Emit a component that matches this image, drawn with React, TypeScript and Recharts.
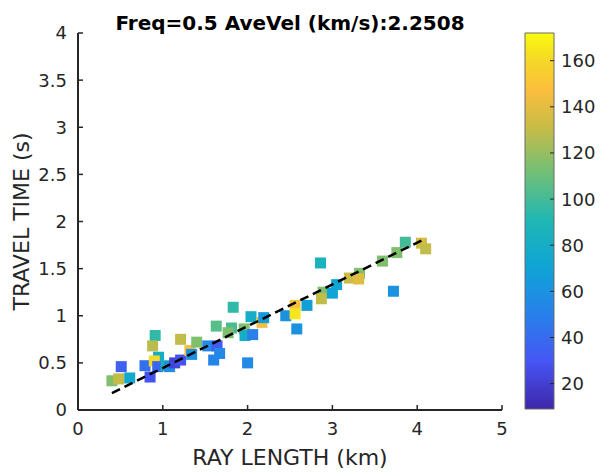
import {
  ScatterChart,
  Scatter,
  XAxis,
  YAxis,
  BarChart,
  Bar,
} from 'recharts';

// ray length (km), travel time (s), colour value for each square
const rayLength = [
  0.4, 0.48, 0.61, 0.51, 0.79, 0.85, 0.91, 0.88, 0.95, 0.9, 0.94, 1.04, 1.08, 1.14,
  1.21, 1.21, 1.32, 1.34, 1.4, 1.53, 1.64, 1.67, 1.6, 1.63, 1.83, 1.81, 1.77, 1.96,
  1.97, 2.06, 2.04, 2.17, 2.19, 2.0, 2.45, 2.56, 2.56, 2.58, 2.7, 2.86, 2.89, 2.87,
  3.0, 3.05, 3.2, 3.32, 3.31, 3.59, 3.76, 3.86, 3.72, 4.05, 4.1,
];
const travelTime = [
  0.31, 0.33, 0.34, 0.46, 0.47, 0.35, 0.79, 0.68, 0.56, 0.52, 0.46, 0.47, 0.46, 0.5,
  0.53, 0.75, 0.63, 0.59, 0.72, 0.68, 0.68, 0.6, 0.53, 0.89, 1.09, 0.87, 0.82, 0.86,
  0.79, 0.8, 0.99, 0.93, 0.98, 0.5, 1.0, 1.11, 1.02, 0.86, 1.11, 1.56, 1.25, 1.18,
  1.24, 1.33, 1.4, 1.45, 1.39, 1.58, 1.67, 1.78, 1.26, 1.77, 1.71,
];
const colorValue = [
  115, 130, 75, 35, 42, 28, 95, 128, 80, 160, 38, 85, 58, 22,
  28, 130, 145, 60, 115, 55, 32, 55, 52, 105, 95, 102, 115, 115,
  80, 50, 80, 145, 65, 55, 60, 145, 165, 60, 68, 85, 115, 130,
  70, 72, 132, 115, 138, 115, 115, 100, 60, 135, 130,
];

// dashed least-squares line ends
const fitX = [0.4, 4.1];
const fitY = [0.18, 1.82];

const xTicks = [0, 1, 2, 3, 4, 5];
const yTicks = [0, 0.5, 1, 1.5, 2, 2.5, 3, 3.5, 4];
const cbTicks = [20, 40, 60, 80, 100, 120, 140, 160];
const cbMin = 9;
const cbMax = 172;

const FONT = '"DejaVu Sans", sans-serif';
const AX = '#262626';

// parula-like colormap stops
const PARULA: [number, number, number, number][] = [
  [0.0, 62, 38, 168],
  [0.125, 70, 85, 244],
  [0.25, 40, 128, 235],
  [0.375, 15, 163, 214],
  [0.5, 30, 183, 180],
  [0.625, 110, 192, 120],
  [0.75, 200, 188, 70],
  [0.85, 252, 190, 60],
  [0.925, 245, 215, 40],
  [1.0, 249, 251, 14],
];

function parula(v: number): string {
  const t = Math.max(0, Math.min(1, (v - cbMin) / (cbMax - cbMin)));
  for (let i = 1; i < PARULA.length; i++) {
    const a = PARULA[i - 1];
    const b = PARULA[i];
    if (t <= b[0]) {
      const f = (t - a[0]) / (b[0] - a[0]);
      const c = [1, 2, 3].map((k) => Math.round(a[k] + (b[k] - a[k]) * f));
      return `rgb(${c[0]},${c[1]},${c[2]})`;
    }
  }
  return 'rgb(249,251,14)';
}

const points = rayLength.map((x, i) => ({ x, y: travelTime[i], c: colorValue[i] }));
const fitData = fitX.map((x, i) => ({ x, y: fitY[i] }));
const cbData = [{ name: 'cb', span: [cbMin, cbMax] }];

function Square(props: any) {
  const { cx, cy, payload } = props;
  return <rect x={cx - 5.5} y={cy - 5.5} width={11} height={11} fill={parula(payload.c)} />;
}

function BottomTick(props: any) {
  const { x, y, payload } = props;
  const ay = y - 12;
  return (
    <g>
      <line x1={x} y1={ay} x2={x} y2={ay - 5} stroke={AX} strokeWidth={1.5} />
      <text x={x} y={y} dy="0.72em" textAnchor="middle" fill={AX} fontSize={18} fontFamily={FONT}>
        {payload.value}
      </text>
    </g>
  );
}

function LeftTick(props: any) {
  const { x, y, payload } = props;
  const ax = x + 11;
  return (
    <g>
      <line x1={ax} y1={y} x2={ax + 5} y2={y} stroke={AX} strokeWidth={1.5} />
      <text x={x} y={y} dy="0.36em" textAnchor="end" fill={AX} fontSize={18} fontFamily={FONT}>
        {payload.value}
      </text>
    </g>
  );
}

function TopTick(props: any) {
  const { x, y } = props;
  return <line x1={x} y1={y} x2={x} y2={y + 5} stroke={AX} strokeWidth={1.5} />;
}

function RightTick(props: any) {
  const { x, y } = props;
  return <line x1={x} y1={y} x2={x - 5} y2={y} stroke={AX} strokeWidth={1.5} />;
}

function CbTick(props: any) {
  const { x, y, payload } = props;
  const ax = x - 7;
  return (
    <g>
      <line x1={ax} y1={y} x2={ax - 4} y2={y} stroke={AX} strokeWidth={1} />
      <text x={x} y={y} dy="0.36em" textAnchor="start" fill={AX} fontSize={18} fontFamily={FONT}>
        {payload.value}
      </text>
    </g>
  );
}

const axisLine = { stroke: AX, strokeWidth: 2 };

export default function App() {
  return (
    <div
      style={{
        position: 'absolute',
        left: 0,
        top: 0,
        width: 601,
        height: 475,
        background: '#fff',
        fontFamily: FONT,
      }}
    >
      <div style={{ position: 'absolute', left: 0, top: 0 }}>
        <ScatterChart width={520} height={475} margin={{ top: 33, right: 18, bottom: 0, left: 0 }}>
          <XAxis
            xAxisId="b"
            type="number"
            dataKey="x"
            domain={[0, 5]}
            ticks={xTicks}
            interval={0}
            height={65}
            tickSize={0}
            tickMargin={12}
            axisLine={axisLine}
            tickLine={false}
            tick={<BottomTick />}
            label={{
              content: (p: any) => {
                const vb = p.viewBox;
                return (
                  <text
                    x={vb.x + vb.width / 2}
                    y={465}
                    textAnchor="middle"
                    fill={AX}
                    fontSize={22}
                    fontFamily={FONT}
                  >
                    RAY LENGTH (km)
                  </text>
                );
              },
            }}
          />
          <XAxis
            xAxisId="t"
            orientation="top"
            type="number"
            dataKey="x"
            domain={[0, 5]}
            ticks={xTicks}
            interval={0}
            height={0}
            tickSize={0}
            tickMargin={0}
            axisLine={axisLine}
            tickLine={false}
            tick={<TopTick />}
          />
          <YAxis
            yAxisId="l"
            type="number"
            dataKey="y"
            domain={[0, 4]}
            ticks={yTicks}
            interval={0}
            width={78}
            tickSize={0}
            tickMargin={11}
            axisLine={axisLine}
            tickLine={false}
            tick={<LeftTick />}
            label={{
              content: (p: any) => {
                const vb = p.viewBox;
                const cy = vb.y + vb.height / 2;
                return (
                  <text
                    x={29}
                    y={cy}
                    transform={`rotate(-90 29 ${cy})`}
                    textAnchor="middle"
                    fill={AX}
                    fontSize={22}
                    fontFamily={FONT}
                  >
                    TRAVEL TIME (s)
                  </text>
                );
              },
            }}
          />
          <YAxis
            yAxisId="r"
            orientation="right"
            type="number"
            dataKey="y"
            domain={[0, 4]}
            ticks={yTicks}
            interval={0}
            width={0}
            tickSize={0}
            tickMargin={0}
            axisLine={axisLine}
            tickLine={false}
            tick={<RightTick />}
          />
          <Scatter
            xAxisId="b"
            yAxisId="l"
            data={points}
            shape={<Square />}
            isAnimationActive={false}
          />
          <Scatter
            xAxisId="b"
            yAxisId="l"
            data={fitData}
            line={{ stroke: '#000', strokeWidth: 2.5, strokeDasharray: '9 5' }}
            lineType="joint"
            shape={() => <g />}
            isAnimationActive={false}
          />
        </ScatterChart>
      </div>
      <div style={{ position: 'absolute', left: 505, top: 0 }}>
        <BarChart
          width={96}
          height={475}
          data={cbData}
          margin={{ top: 33, right: 0, bottom: 66, left: 20 }}
          barCategoryGap={0}
        >
          <defs>
            <linearGradient id="parula" x1="0" y1="1" x2="0" y2="0">
              {PARULA.map((s) => (
                <stop key={s[0]} offset={s[0]} stopColor={`rgb(${s[1]},${s[2]},${s[3]})`} />
              ))}
            </linearGradient>
          </defs>
          <XAxis dataKey="name" hide />
          <YAxis
            orientation="right"
            type="number"
            domain={[cbMin, cbMax]}
            ticks={cbTicks}
            interval={0}
            width={47}
            tickSize={0}
            tickMargin={7}
            axisLine={false}
            tickLine={false}
            tick={<CbTick />}
          />
          <Bar
            dataKey="span"
            fill="url(#parula)"
            stroke="#6b6b6b"
            strokeWidth={1}
            isAnimationActive={false}
          />
        </BarChart>
      </div>
      <svg
        width={601}
        height={40}
        style={{ position: 'absolute', left: 0, top: 0, pointerEvents: 'none' }}
      >
        <text
          x={290}
          y={30}
          textAnchor="middle"
          fill="#000"
          fontSize={20}
          fontWeight="bold"
          fontFamily={FONT}
        >
          Freq=0.5 AveVel (km/s):2.2508
        </text>
      </svg>
    </div>
  );
}
